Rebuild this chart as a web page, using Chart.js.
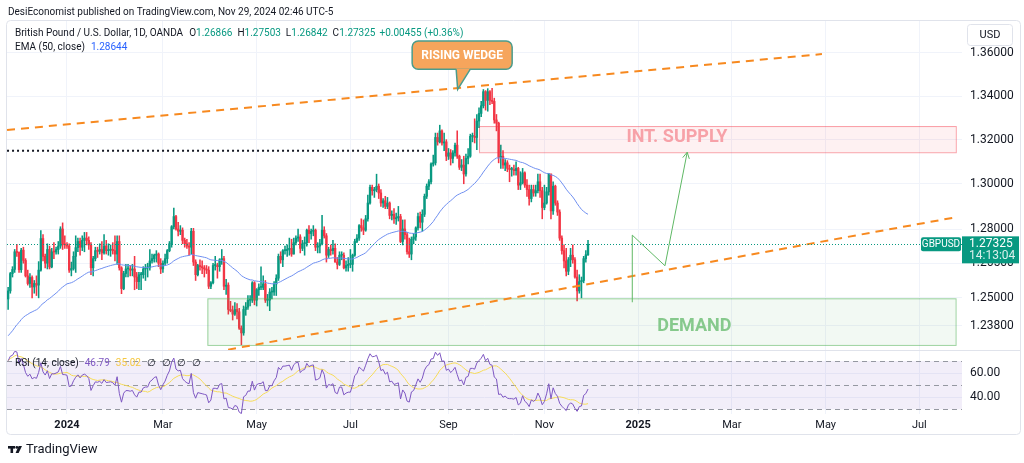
<!DOCTYPE html>
<html lang="en">
<head>
<meta charset="UTF-8">
<title>GBPUSD 1D - Rising Wedge</title>
<script src="https://cdn.jsdelivr.net/npm/chart.js"></script>
<style>
  html, body { margin: 0; padding: 0; background: #fff; }
  .wrap { position: relative; width: 1024px; height: 463px; overflow: hidden; }
  #priceChart { position: absolute; left: 0; top: 0; }
  #rsiChart { position: absolute; left: 0; top: 331px; }
</style>
</head>
<body>
<div class="wrap">
  <canvas id="priceChart" width="1024" height="463"></canvas>
  <canvas id="rsiChart" width="1024" height="105"></canvas>
</div>
<script>
// bar 0 = Jan 1 2024, first candle = Nov 23 2023 (daily, Mon-Fri)
const firstBar = -27;

const opens = [
  1.2495,1.2530,1.2605,1.2623,1.2700,1.2697,
  1.2622,1.2707,1.2662,1.2595,1.2562,1.2588,1.2547,1.2562,1.2555,1.2620,1.2758,1.2680,1.2650,1.2710,1.2634,1.2700,1.2699,1.2710,1.2725,1.2800,1.2731,
  1.2730,1.2725,1.2620,1.2627,1.2680,1.2718,1.2745,1.2720,1.2750,1.2760,1.2750,1.2730,1.2630,1.2670,1.2705,1.2702,1.2710,1.2695,1.2725,1.2705,1.2707,1.2710,1.2705,
  1.2690,1.2745,1.2630,1.2540,1.2605,1.2625,1.2625,1.2620,1.2625,1.2590,1.2570,1.2600,1.2600,1.2625,1.2630,1.2630,1.2660,1.2670,1.2685,1.2690,1.2650,
  1.2625,1.2650,1.2670,1.2705,1.2735,1.2810,1.2855,1.2800,1.2790,1.2795,1.2750,1.2735,1.2725,1.2720,1.2790,1.2655,1.2600,1.2640,1.2635,1.2630,1.2625,
  1.2620,1.2550,1.2565,1.2640,1.2640,1.2635,1.2665,1.2670,1.2550,1.2555,1.2450,1.2445,1.2430,1.2450,1.2440,1.2370,1.2350,1.2450,1.2460,1.2490,1.2490,1.2565,
  1.2490,1.2535,1.2545,1.2545,1.2560,1.2490,1.2490,1.2525,1.2525,1.2560,1.2585,1.2680,1.2665,1.2705,1.2705,1.2710,1.2715,1.2690,1.2740,1.2760,1.2765,1.2715,1.2735,
  1.2740,1.2795,1.2780,1.2790,1.2795,1.2720,1.2725,1.2735,1.2795,1.2770,1.2685,1.2710,1.2705,1.2715,1.2655,1.2645,1.2685,1.2685,1.2630,1.2640,
  1.2645,1.2645,1.2685,1.2745,1.2760,1.2815,1.2805,1.2795,1.2845,1.2915,1.2985,1.2970,1.2975,1.2990,1.2960,1.2915,1.2925,1.2900,1.2915,1.2860,1.2865,1.2845,1.2850,
  1.2855,1.2745,1.2800,1.2775,1.2700,1.2690,1.2755,1.2765,1.2805,1.2855,1.2830,1.2865,1.2945,1.2990,1.3010,1.3090,1.3095,1.3210,1.3190,1.3240,1.3185,1.3190,
  1.3125,1.3140,1.3115,1.3140,1.3175,1.3125,1.3075,1.3085,1.3045,1.3115,1.3125,1.3215,1.3215,1.3210,1.3285,1.3320,1.3355,1.3420,1.3380,1.3420,1.3380,
  1.3375,1.3290,1.3275,1.3120,1.3125,1.3085,1.3095,1.3070,1.3065,1.3065,1.3060,1.3070,1.2995,1.3005,1.3050,1.2995,1.2975,1.2935,1.2975,1.2960,1.2970,1.3010,1.2970,
  1.2895,1.2915,1.2965,1.3045,1.2880,1.2990,1.2915,1.2875,1.2760,1.2705,1.2660,1.2615,1.2665,1.2685,1.2665,1.2590,1.2530,1.2570,1.2575,1.2670,1.26866
];
const highs = [
  1.2545,1.2610,1.2635,1.2710,1.2733,1.2700,
  1.2715,1.2720,1.2670,1.2620,1.2605,1.2595,1.2575,1.2595,1.2657,1.2793,1.2775,1.2690,1.2735,1.2725,1.2715,1.2740,1.2720,1.2745,1.2810,1.2827,1.2770,
  1.2740,1.2735,1.2655,1.2700,1.2770,1.2760,1.2760,1.2770,1.2785,1.2785,1.2765,1.2740,1.2680,1.2720,1.2720,1.2735,1.2745,1.2775,1.2750,1.2735,1.2730,1.2740,1.2770,
  1.2770,1.2770,1.2635,1.2615,1.2645,1.2645,1.2640,1.2645,1.2680,1.2610,1.2610,1.2610,1.2635,1.2645,1.2650,1.2710,1.2690,1.2690,1.2705,1.2695,1.2670,
  1.2660,1.2690,1.2710,1.2745,1.2815,1.2893,1.2860,1.2830,1.2815,1.2805,1.2760,1.2755,1.2740,1.2803,1.2803,1.2665,1.2645,1.2665,1.2660,1.2640,1.2640,
  1.2635,1.2570,1.2650,1.2680,1.2650,1.2670,1.2710,1.2680,1.2580,1.2565,1.2485,1.2465,1.2480,1.2475,1.2455,1.2380,1.2465,1.2480,1.2510,1.2510,1.2570,1.2570,
  1.2540,1.2560,1.2634,1.2595,1.2575,1.2515,1.2540,1.2545,1.2570,1.2600,1.2690,1.2700,1.2710,1.2725,1.2730,1.2760,1.2755,1.2760,1.2770,1.2800,1.2775,1.2750,1.2765,
  1.2800,1.2815,1.2800,1.2815,1.2800,1.2740,1.2755,1.2860,1.2810,1.2780,1.2720,1.2730,1.2750,1.2735,1.2675,1.2700,1.2700,1.2695,1.2660,1.2675,
  1.2710,1.2690,1.2755,1.2775,1.2820,1.2845,1.2840,1.2860,1.2950,1.2995,1.2995,1.2985,1.3044,1.3000,1.2975,1.2935,1.2945,1.2940,1.2920,1.2880,1.2890,1.2870,1.2900,
  1.2865,1.2840,1.2840,1.2785,1.2760,1.2765,1.2780,1.2810,1.2870,1.2875,1.2885,1.2955,1.3000,1.3020,1.3095,1.3130,1.3230,1.3230,1.3266,1.3245,1.3230,1.3200,
  1.3160,1.3155,1.3150,1.3185,1.3240,1.3130,1.3110,1.3125,1.3135,1.3160,1.3225,1.3230,1.3295,1.3315,1.3345,1.3375,1.3430,1.3425,1.3434,1.3425,1.3435,
  1.3390,1.3315,1.3280,1.3175,1.3150,1.3110,1.3105,1.3085,1.3075,1.3085,1.3100,1.3075,1.3055,1.3070,1.3055,1.3020,1.2995,1.2995,1.2995,1.2995,1.3045,1.3045,1.2985,
  1.2995,1.2985,1.3047,1.3045,1.3010,1.2995,1.2925,1.2885,1.2770,1.2730,1.2715,1.2675,1.2715,1.2730,1.2675,1.2620,1.2600,1.2590,1.2680,1.2705,1.27503
];
const lows = [
  1.2450,1.2520,1.2590,1.2610,1.2680,1.2610,
  1.2610,1.2650,1.2590,1.2555,1.2545,1.2500,1.2520,1.2510,1.2500,1.2615,1.2660,1.2630,1.2625,1.2625,1.2630,1.2670,1.2690,1.2690,1.2715,1.2710,1.2715,
  1.2715,1.2610,1.2595,1.2620,1.2610,1.2700,1.2685,1.2705,1.2700,1.2730,1.2710,1.2600,1.2595,1.2660,1.2675,1.2690,1.2665,1.2690,1.2690,1.2685,1.2680,1.2690,1.2660,
  1.2645,1.2620,1.2518,1.2535,1.2590,1.2590,1.2595,1.2595,1.2535,1.2540,1.2535,1.2535,1.2585,1.2575,1.2590,1.2620,1.2650,1.2655,1.2655,1.2635,1.2605,
  1.2610,1.2640,1.2650,1.2700,1.2720,1.2800,1.2795,1.2770,1.2775,1.2735,1.2720,1.2715,1.2685,1.2690,1.2640,1.2575,1.2595,1.2620,1.2605,1.2590,1.2605,
  1.2540,1.2540,1.2560,1.2620,1.2585,1.2615,1.2645,1.2535,1.2515,1.2430,1.2440,1.2405,1.2425,1.2410,1.2365,1.2300,1.2340,1.2425,1.2450,1.2465,1.2480,1.2470,
  1.2465,1.2510,1.2535,1.2535,1.2480,1.2465,1.2445,1.2495,1.2510,1.2510,1.2575,1.2650,1.2635,1.2690,1.2680,1.2685,1.2680,1.2690,1.2730,1.2745,1.2695,1.2705,1.2685,
  1.2725,1.2740,1.2755,1.2770,1.2705,1.2695,1.2695,1.2730,1.2760,1.2655,1.2675,1.2685,1.2690,1.2655,1.2625,1.2640,1.2665,1.2625,1.2615,1.2615,
  1.2630,1.2615,1.2680,1.2740,1.2750,1.2790,1.2775,1.2790,1.2835,1.2910,1.2950,1.2940,1.2965,1.2935,1.2900,1.2895,1.2890,1.2890,1.2845,1.2840,1.2825,1.2820,1.2835,
  1.2740,1.2730,1.2755,1.2690,1.2675,1.2665,1.2735,1.2750,1.2795,1.2805,1.2790,1.2855,1.2935,1.2975,1.3000,1.3080,1.3085,1.3175,1.3185,1.3175,1.3150,1.3105,
  1.3110,1.3085,1.3095,1.3125,1.3115,1.3065,1.3060,1.3001,1.3035,1.3090,1.3120,1.3190,1.3185,1.3155,1.3255,1.3305,1.3345,1.3335,1.3330,1.3360,1.3365,
  1.3275,1.3240,1.3095,1.3070,1.3070,1.3060,1.3055,1.3010,1.3035,1.3040,1.3040,1.2975,1.2975,1.3000,1.2985,1.2945,1.2905,1.2920,1.2945,1.2945,1.2960,1.2940,1.2845,
  1.2885,1.2910,1.2950,1.2845,1.2865,1.2905,1.2860,1.2750,1.2690,1.2630,1.2595,1.2600,1.2635,1.2650,1.2585,1.2487,1.2520,1.2500,1.2565,1.2655,1.26842
];
const closes = [
  1.2530,1.2605,1.2623,1.2700,1.2697,1.2622,
  1.2707,1.2662,1.2595,1.2562,1.2588,1.2547,1.2562,1.2555,1.2620,1.2758,1.2680,1.2650,1.2710,1.2634,1.2700,1.2699,1.2710,1.2725,1.2800,1.2731,1.2730,
  1.2725,1.2620,1.2627,1.2680,1.2718,1.2745,1.2720,1.2750,1.2760,1.2750,1.2730,1.2630,1.2670,1.2705,1.2702,1.2710,1.2695,1.2725,1.2705,1.2707,1.2710,1.2705,1.2690,
  1.2745,1.2630,1.2540,1.2605,1.2625,1.2625,1.2620,1.2625,1.2590,1.2570,1.2600,1.2600,1.2625,1.2630,1.2630,1.2660,1.2670,1.2685,1.2690,1.2650,1.2625,
  1.2650,1.2670,1.2705,1.2735,1.2810,1.2855,1.2800,1.2790,1.2795,1.2750,1.2735,1.2725,1.2720,1.2790,1.2655,1.2600,1.2640,1.2635,1.2630,1.2625,1.2620,
  1.2550,1.2565,1.2640,1.2640,1.2635,1.2665,1.2670,1.2550,1.2555,1.2450,1.2445,1.2430,1.2450,1.2440,1.2370,1.2350,1.2450,1.2460,1.2490,1.2490,1.2565,1.2490,
  1.2535,1.2545,1.2545,1.2560,1.2490,1.2490,1.2525,1.2525,1.2560,1.2585,1.2680,1.2665,1.2705,1.2705,1.2710,1.2715,1.2690,1.2740,1.2760,1.2765,1.2715,1.2735,1.2740,
  1.2795,1.2780,1.2790,1.2795,1.2720,1.2725,1.2735,1.2795,1.2770,1.2685,1.2710,1.2705,1.2715,1.2655,1.2645,1.2685,1.2685,1.2630,1.2640,1.2645,
  1.2645,1.2685,1.2745,1.2760,1.2815,1.2805,1.2795,1.2845,1.2915,1.2985,1.2970,1.2975,1.2990,1.2960,1.2915,1.2925,1.2900,1.2915,1.2860,1.2865,1.2845,1.2850,1.2855,
  1.2745,1.2800,1.2775,1.2700,1.2690,1.2755,1.2765,1.2805,1.2855,1.2830,1.2865,1.2945,1.2990,1.3010,1.3090,1.3095,1.3210,1.3190,1.3240,1.3185,1.3190,1.3125,
  1.3140,1.3115,1.3140,1.3175,1.3125,1.3075,1.3085,1.3045,1.3115,1.3125,1.3215,1.3215,1.3210,1.3285,1.3320,1.3355,1.3420,1.3380,1.3420,1.3380,1.3375,
  1.3290,1.3275,1.3120,1.3125,1.3085,1.3095,1.3070,1.3065,1.3065,1.3060,1.3070,1.2995,1.3005,1.3050,1.2995,1.2975,1.2935,1.2975,1.2960,1.2970,1.3010,1.2970,1.2895,
  1.2915,1.2965,1.3045,1.2880,1.2990,1.2915,1.2875,1.2760,1.2705,1.2660,1.2615,1.2665,1.2685,1.2665,1.2590,1.2530,1.2570,1.2575,1.2670,1.2687,1.27325
];

const tickBars = [0, 44, 87, 130, 175, 219, 262, 305, 348, 391];
const tickLabels = ['2024', 'Mar', 'May', 'Jul', 'Sep', 'Nov', '2025', 'Mar', 'May', 'Jul'];
const priceTicks = [1.36, 1.34, 1.32, 1.30, 1.28, 1.265, 1.25, 1.238];
const rsiTicks = [60, 40];
const lastPrice = 1.27325;

// indicator state just before the first visible candle
const emaStart = 1.2330;
const rsiStartGain = 0.0028, rsiStartLoss = 0.0013;

// drawings on the chart, in bar / price units
const supplyZone = { from: 189, to: 407.7, top: 1.3262, bottom: 1.3143, label: 'INT. SUPPLY', labelBar: 279.8, labelPrice: 1.3210 };
const demandZone = { from: 64.4, to: 407.6, top: 1.2498, bottom: 1.2299, label: 'DEMAND', labelBar: 287.8, labelPrice: 1.2377 };
const wedgeUpper = [[-27.5, 1.3244], [346.3, 1.3595]];
const wedgeLower = [[73.9, 1.2279], [408.3, 1.2853]];
const dottedLevel = { from: -27.5, to: 167.4, price: 1.3150 };
const projection = [[259.3, 1.2481], [259.3, 1.2773], [274.3, 1.2639], [284.5, 1.3143]];
const wedgeTag = { bar: 179.2, price: 1.3431, text: 'RISING WEDGE' };

const xMin = -27.52, xMax = 410.55;
const UP = '#089981', DOWN = '#f23645', TXT = '#131722', FONT = 'Roboto';

const bars = closes.map((c, k) => firstBar + k);

// EMA 50 and RSI 14 worked out from the closes, as the platform does
const ema = [];
let e = emaStart;
closes.forEach(c => { e += (2 / 51) * (c - e); ema.push(e); });

const rsi = [];
let avgGain = rsiStartGain, avgLoss = rsiStartLoss, prevClose = opens[0];
closes.forEach(c => {
  const ch = c - prevClose;
  prevClose = c;
  avgGain = (avgGain * 13 + Math.max(ch, 0)) / 14;
  avgLoss = (avgLoss * 13 + Math.max(-ch, 0)) / 14;
  rsi.push(100 - 100 / (1 + avgGain / avgLoss));
});
const rsiMa = rsi.map((v, k) => {
  const s = rsi.slice(Math.max(0, k - 13), k + 1);
  return s.reduce((a, b) => a + b, 0) / s.length;
});

const candleColors = closes.map((c, k) => c >= opens[k] ? UP : DOWN);

Chart.defaults.font.family = FONT;
Chart.defaults.animation = false;

function timeAxis(showLabels) {
  return {
    type: 'linear', min: xMin, max: xMax, offset: false,
    afterBuildTicks: s => { s.ticks = tickBars.map(v => ({ value: v })); },
    afterFit: s => { s.height = showLabels ? 22 : 0; },
    grid: { color: '#f0f3fa', drawTicks: false, offset: false },
    border: { display: false },
    ticks: {
      display: showLabels, autoSkip: false, maxRotation: 0, padding: 5, color: TXT,
      callback: (v, i) => tickLabels[i],
      font: c => ({ family: FONT, size: 11, weight: /^\d{4}$/.test(tickLabels[c.index]) ? 'bold' : 'normal' })
    }
  };
}

function runs(ctx, x, y, parts, size) {
  ctx.font = size + 'px ' + FONT;
  ctx.textBaseline = 'middle';
  ctx.textAlign = 'left';
  parts.forEach(([t, col, gap]) => {
    ctx.fillStyle = col;
    ctx.fillText(t, x, y);
    x += ctx.measureText(t).width + (gap || 0);
  });
}

function roundRect(ctx, x, y, w, h, r) {
  ctx.beginPath();
  ctx.moveTo(x + r, y);
  ctx.arcTo(x + w, y, x + w, y + h, r);
  ctx.arcTo(x + w, y + h, x, y + h, r);
  ctx.arcTo(x, y + h, x, y, r);
  ctx.arcTo(x, y, x + w, y, r);
  ctx.closePath();
}

const drawings = {
  id: 'drawings',
  afterDraw(chart) {
    const { ctx, chartArea: a, scales: { x, y } } = chart;
    const px = b => x.getPixelForValue(b), py = p => y.getPixelForValue(p);

    ctx.save();
    ctx.beginPath();
    ctx.rect(a.left, a.top, a.right - a.left, a.bottom - a.top);
    ctx.clip();

    // zones
    [[supplyZone, 'rgba(242,54,69,0.07)', 'rgba(242,54,69,0.45)', '#f7a1a8'],
     [demandZone, 'rgba(76,175,80,0.07)', 'rgba(76,175,80,0.55)', '#86c98c']].forEach(([z, fill, line, tc]) => {
      const x0 = px(z.from), x1 = px(z.to), y0 = py(z.top), y1 = py(z.bottom);
      ctx.fillStyle = fill;
      ctx.fillRect(x0, y0, x1 - x0, y1 - y0);
      ctx.strokeStyle = line;
      ctx.lineWidth = 1;
      ctx.strokeRect(x0 + 0.5, y0 + 0.5, x1 - x0, y1 - y0);
      ctx.fillStyle = tc;
      ctx.font = 'bold 18px ' + FONT;
      ctx.textAlign = 'center';
      ctx.textBaseline = 'middle';
      ctx.fillText(z.label, px(z.labelBar), py(z.labelPrice));
    });

    // black dotted level
    ctx.strokeStyle = '#131722';
    ctx.lineWidth = 2;
    ctx.setLineDash([2, 3]);
    ctx.beginPath();
    ctx.moveTo(px(dottedLevel.from), py(dottedLevel.price));
    ctx.lineTo(px(dottedLevel.to), py(dottedLevel.price));
    ctx.stroke();

    // wedge lines
    ctx.strokeStyle = '#f7891f';
    ctx.lineWidth = 2;
    ctx.setLineDash([8, 6]);
    [wedgeUpper, wedgeLower].forEach(l => {
      ctx.beginPath();
      ctx.moveTo(px(l[0][0]), py(l[0][1]));
      ctx.lineTo(px(l[1][0]), py(l[1][1]));
      ctx.stroke();
    });

    // projection path with arrow
    ctx.setLineDash([]);
    ctx.strokeStyle = '#5fb865';
    ctx.lineWidth = 1;
    ctx.beginPath();
    projection.forEach(([b, p], i) => i ? ctx.lineTo(px(b), py(p)) : ctx.moveTo(px(b), py(p)));
    ctx.stroke();
    const [pb, pp] = projection[projection.length - 2], [eb, ep] = projection[projection.length - 1];
    const ang = Math.atan2(py(ep) - py(pp), px(eb) - px(pb));
    ctx.beginPath();
    [-0.5, 0.5].forEach(d => {
      ctx.moveTo(px(eb), py(ep));
      ctx.lineTo(px(eb) - 7 * Math.cos(ang + d), py(ep) - 7 * Math.sin(ang + d));
    });
    ctx.stroke();

    // last price line
    ctx.strokeStyle = UP;
    ctx.setLineDash([1, 2]);
    ctx.beginPath();
    ctx.moveTo(a.left, Math.round(py(lastPrice)) + 0.5);
    ctx.lineTo(a.right, Math.round(py(lastPrice)) + 0.5);
    ctx.stroke();
    ctx.restore();

    // rising wedge callout
    ctx.save();
    const tx = px(wedgeTag.bar), ty = py(wedgeTag.price);
    const bx = tx - 45.5, by = ty - 48.3, bw = 100, bh = 28.3;
    roundRect(ctx, bx, by, bw, bh, 6);
    ctx.fillStyle = '#f6a55c';
    ctx.fill();
    ctx.strokeStyle = '#4b9c8c';
    ctx.lineWidth = 1.5;
    ctx.stroke();
    ctx.beginPath();
    ctx.moveTo(tx - 1.5, by + bh - 0.8);
    ctx.lineTo(tx, ty);
    ctx.lineTo(tx + 12.5, by + bh - 0.8);
    ctx.closePath();
    ctx.fill();
    ctx.beginPath();
    ctx.moveTo(tx - 1.5, by + bh);
    ctx.lineTo(tx, ty);
    ctx.lineTo(tx + 12.5, by + bh);
    ctx.stroke();
    ctx.fillStyle = '#fff';
    ctx.font = 'bold 12px ' + FONT;
    ctx.textAlign = 'center';
    ctx.textBaseline = 'middle';
    ctx.fillText(wedgeTag.text, bx + bw / 2, by + bh / 2 + 0.5);

    // symbol tag and last price on the axis
    const ly = py(lastPrice);
    roundRect(ctx, a.right - 41, ly - 7, 40, 14, 2);
    ctx.fillStyle = UP;
    ctx.fill();
    ctx.fillStyle = '#fff';
    ctx.font = '10px ' + FONT;
    ctx.fillText('GBPUSD', a.right - 21, ly);
    ctx.fillStyle = UP;
    ctx.fillRect(a.right, ly - 8, 57, 27);
    ctx.fillStyle = '#fff';
    ctx.font = '12px ' + FONT;
    ctx.textAlign = 'left';
    ctx.fillText('1.27325', a.right + 7, ly - 0.5);
    ctx.fillStyle = 'rgba(255,255,255,0.85)';
    ctx.fillText('14:13:04', a.right + 7, ly + 12);

    // frame
    ctx.strokeStyle = '#e0e3eb';
    ctx.lineWidth = 1;
    roundRect(ctx, 6.5, 20.5, 1014, 414, 4);
    ctx.stroke();
    ctx.beginPath();
    ctx.moveTo(7, 350.5);
    ctx.lineTo(1021, 350.5);
    ctx.stroke();

    // USD badge
    roundRect(ctx, 967.5, 24.5, 45, 21, 3);
    ctx.stroke();
    ctx.fillStyle = TXT;
    ctx.font = '11px ' + FONT;
    ctx.textAlign = 'center';
    ctx.fillText('USD', 990, 35);

    // header and legends
    runs(ctx, 8, 12, [['DesiEconomist published on TradingView.com, Nov 29, 2024 02:46 UTC-5', TXT]], 10);
    runs(ctx, 15, 33, [
      ['British Pound / U.S. Dollar, 1D, OANDA', TXT, 6],
      ['O', TXT], ['1.26866', UP, 5], ['H', TXT], ['1.27503', UP, 5],
      ['L', TXT], ['1.26842', UP, 5], ['C', TXT], ['1.27325', UP, 4],
      ['+0.00455 (+0.36%)', UP]
    ], 10);
    runs(ctx, 15, 47, [['EMA (50, close)', TXT, 6], ['1.28644', '#2962ff']], 10);

    // TradingView mark
    ctx.fillStyle = TXT;
    ctx.fillRect(8, 446, 7, 2.6);
    ctx.fillRect(10.5, 446, 2.6, 7);
    ctx.beginPath();
    ctx.arc(16.8, 447.4, 1.4, 0, Math.PI * 2);
    ctx.fill();
    ctx.beginPath();
    ctx.moveTo(18.6, 446);
    ctx.lineTo(22, 446);
    ctx.lineTo(18.6, 453);
    ctx.lineTo(15.6, 453);
    ctx.closePath();
    ctx.fill();
    runs(ctx, 26, 449.5, [['TradingView', TXT]], 13);
    ctx.restore();
  }
};

new Chart(document.getElementById('priceChart'), {
  type: 'bar',
  data: {
    datasets: [
      {
        type: 'line', label: 'EMA 50', order: 0,
        data: bars.map((b, k) => ({ x: b, y: ema[k] })),
        borderColor: '#6f8ff0', borderWidth: 1, pointRadius: 0, tension: 0
      },
      {
        label: 'body', order: 1, grouped: false, barThickness: 1.7, minBarLength: 1,
        data: bars.map((b, k) => ({ x: b, y: [opens[k], closes[k]] })),
        backgroundColor: candleColors
      },
      {
        label: 'wick', order: 2, grouped: false, barThickness: 0.9,
        data: bars.map((b, k) => ({ x: b, y: [lows[k], highs[k]] })),
        backgroundColor: candleColors
      }
    ]
  },
  options: {
    responsive: false,
    layout: { padding: { left: 7, top: 21, right: 3, bottom: 113 } },
    plugins: { legend: { display: false }, tooltip: { enabled: false } },
    scales: {
      x: timeAxis(false),
      y: {
        type: 'logarithmic', position: 'right', min: 1.22775, max: 1.37507, bounds: 'data',
        afterBuildTicks: s => { s.ticks = priceTicks.map(v => ({ value: v })); },
        afterFit: s => { s.width = 59; },
        grid: { color: '#f0f3fa', drawTicks: false },
        border: { display: false },
        ticks: { autoSkip: false, padding: 8, color: TXT, font: { size: 12 }, callback: v => Number(v).toFixed(5) }
      }
    }
  },
  plugins: [drawings]
});

const rsiPane = {
  id: 'rsiPane',
  beforeDatasetsDraw(chart) {
    const { ctx, chartArea: a, scales: { y } } = chart;
    ctx.save();
    ctx.fillStyle = 'rgba(126,87,194,0.1)';
    ctx.fillRect(a.left, y.getPixelForValue(70), a.right - a.left, y.getPixelForValue(30) - y.getPixelForValue(70));
    ctx.strokeStyle = '#9598a1';
    ctx.lineWidth = 1;
    ctx.setLineDash([5, 4]);
    [70, 50, 30].forEach(v => {
      const yy = Math.round(y.getPixelForValue(v)) + 0.5;
      ctx.beginPath();
      ctx.moveTo(a.left, yy);
      ctx.lineTo(a.right, yy);
      ctx.stroke();
    });
    ctx.restore();
  },
  afterDraw(chart) {
    const { ctx, chartArea: a } = chart;
    ctx.save();
    runs(ctx, 15, a.top + 12, [
      ['RSI (14, close)', TXT, 6], ['46.79', '#7e57c2', 6], ['35.02', '#f5c842', 6],
      ['∅', TXT, 6], ['∅', TXT, 6], ['∅', TXT, 6], ['∅', TXT]
    ], 10);
    ctx.restore();
  }
};

new Chart(document.getElementById('rsiChart'), {
  type: 'line',
  data: {
    datasets: [
      { label: 'RSI', data: bars.map((b, k) => ({ x: b, y: rsi[k] })), borderColor: '#7e57c2', borderWidth: 1, pointRadius: 0 },
      { label: 'RSI MA', data: bars.map((b, k) => ({ x: b, y: rsiMa[k] })), borderColor: '#f7dc57', borderWidth: 1, pointRadius: 0 }
    ]
  },
  options: {
    responsive: false,
    layout: { padding: { left: 7, top: 20, right: 3, bottom: 0 } },
    plugins: { legend: { display: false }, tooltip: { enabled: false } },
    scales: {
      x: timeAxis(true),
      y: {
        type: 'linear', position: 'right', min: 26.1, max: 78.3,
        afterBuildTicks: s => { s.ticks = rsiTicks.map(v => ({ value: v })); },
        afterFit: s => { s.width = 59; },
        grid: { color: '#f0f3fa', drawTicks: false },
        border: { display: false },
        ticks: { padding: 8, color: TXT, font: { size: 12 }, callback: v => Number(v).toFixed(2) }
      }
    }
  },
  plugins: [rsiPane]
});
</script>
</body>
</html>
